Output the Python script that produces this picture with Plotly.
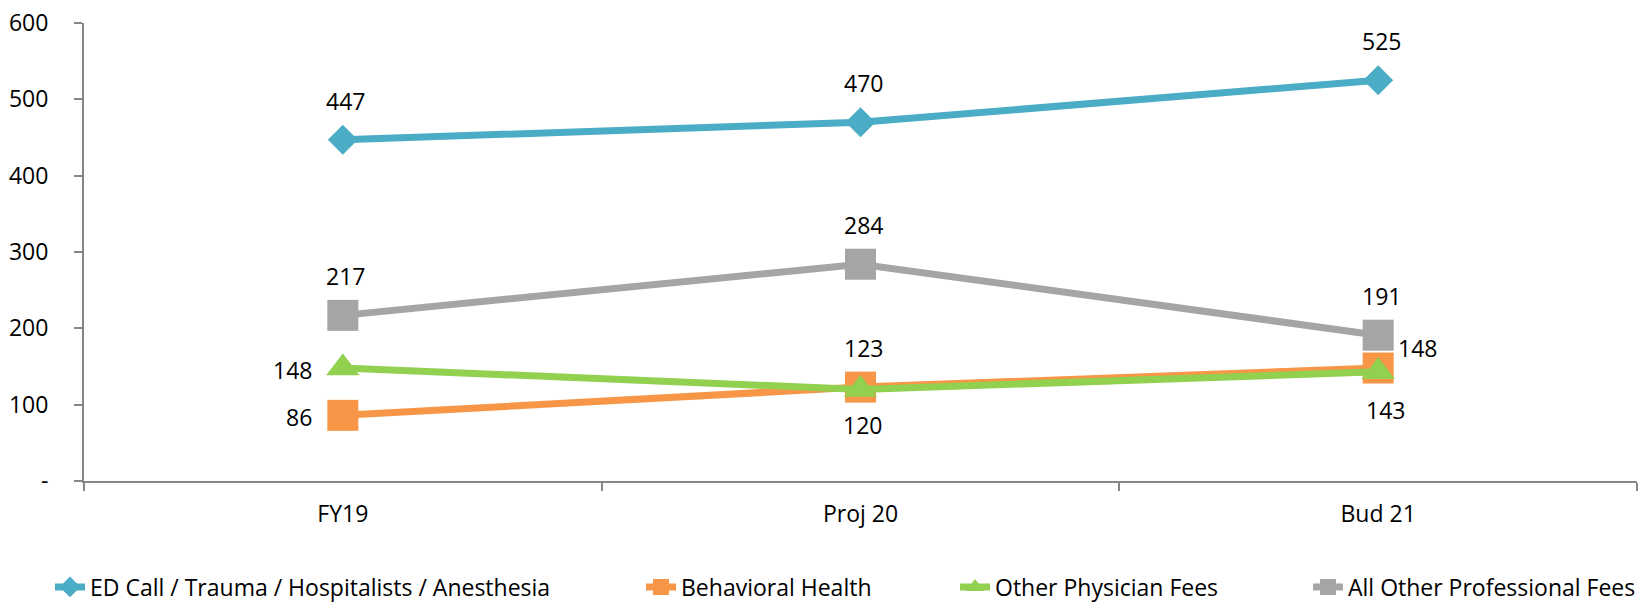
import plotly.graph_objects as go

# Fiscal periods along the category axis
periods = ["FY19", "Proj 20", "Bud 21"]

# Professional fee totals per period
ed_call = [447, 470, 525]
behavioral = [86, 123, 148]
other_physician = [148, 120, 143]
all_other = [217, 284, 191]

# Y axis ticks (zero is shown as a dash)
y_tickvals = [0, 100, 200, 300, 400, 500, 600]
y_ticktext = ["-", "100", "200", "300", "400", "500", "600"]

FONT = "'Open Sans', Lato, sans-serif"
FONT_SIZE = 23
AXIS_GREY = "#868686"
W, H = 1642, 606

series = [
    dict(name="ED Call / Trauma / Hospitalists / Anesthesia", values=ed_call,
         color="#4BACC6", symbol="diamond", size=23,
         labels=["top", "top", "top"], legend_px=50),
    dict(name="Behavioral Health", values=behavioral,
         color="#F79646", symbol="square", size=31,
         labels=["left", "top", "right-up"], legend_px=641),
    dict(name="Other Physician Fees", values=other_physician,
         color="#92D050", symbol="triangle-up", size=29,
         labels=["left", "bottom", "bottom-right"], legend_px=955),
    dict(name="All Other Professional Fees", values=all_other,
         color="#A5A5A5", symbol="square", size=31,
         labels=["top", "top", "top"], legend_px=1308),
]

# label placement -> (xanchor, yanchor, xshift, yshift)
placements = {
    "top": ("center", "middle", 3, 39),
    "left": ("right", "middle", -29, -2),
    "bottom": ("center", "middle", 2, -36),
    "bottom-right": ("center", "middle", 7, -38),
    "right-up": ("left", "middle", 18, 20),
}

LEGEND_Y_PX = 587  # vertical centre of the legend row

fig = go.Figure()
annotations = []
legend_layouts = {}
for i, s in enumerate(series):
    legend_id = "legend" if i == 0 else f"legend{i + 1}"
    fig.add_trace(go.Scatter(
        x=periods, y=s["values"], name=s["name"], mode="lines+markers",
        line=dict(color=s["color"], width=7),
        marker=dict(symbol=s["symbol"], size=s["size"], color=s["color"],
                    line=dict(width=0)),
        cliponaxis=False, legend=legend_id,
    ))
    legend_layouts[legend_id] = dict(
        orientation="h",
        xref="container", x=s["legend_px"] / W, xanchor="left",
        yref="container", y=(H - LEGEND_Y_PX) / H, yanchor="middle",
        font=dict(family=FONT, size=FONT_SIZE, color="#000000"),
        bgcolor="rgba(0,0,0,0)", borderwidth=0,
    )
    for p, v, lab in zip(periods, s["values"], s["labels"]):
        xa, ya, dx, dy = placements[lab]
        annotations.append(dict(
            x=p, y=v, xref="x", yref="y", text=str(v), showarrow=False,
            xanchor=xa, yanchor=ya, xshift=dx, yshift=dy,
            font=dict(family=FONT, size=FONT_SIZE, color="#000000"),
        ))

fig.update_layout(
    width=W, height=H,
    margin=dict(l=84, r=5, t=23, b=125, autoexpand=False),
    paper_bgcolor="white", plot_bgcolor="white",
    font=dict(family=FONT, size=FONT_SIZE, color="#000000"),
    annotations=annotations,
    showlegend=True,
    xaxis=dict(
        type="category", categoryorder="array", categoryarray=periods,
        range=[-0.5, 2.5], tickson="boundaries",
        showline=True, linecolor=AXIS_GREY, linewidth=2,
        ticks="outside", ticklen=8, tickwidth=2, tickcolor=AXIS_GREY,
        showgrid=False, zeroline=False, ticklabelstandoff=11,
    ),
    yaxis=dict(
        range=[0, 600], tickvals=y_tickvals, ticktext=y_ticktext,
        showline=True, linecolor=AXIS_GREY, linewidth=2,
        ticks="outside", ticklen=8, tickwidth=2, tickcolor=AXIS_GREY,
        showgrid=False, zeroline=False, ticklabelstandoff=21,
    ),
    **legend_layouts,
)

fig.write_html("out.html")
